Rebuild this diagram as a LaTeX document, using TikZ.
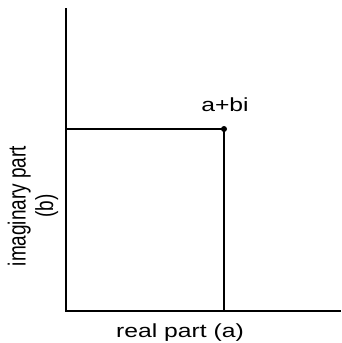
\documentclass[tikz,border=0pt]{standalone}
\usepackage{fontspec}
\setmainfont{Liberation Sans}
\begin{document}
\begin{tikzpicture}[x=1pt,y=-1pt,line width=1.1pt,every node/.style={font=\fontsize{19}{21}\selectfont,inner sep=0pt,xscale=1.3}]
\useasboundingbox (0,0) rectangle (341,343);
\coordinate (top) at (66,8);
\coordinate (orig) at (66,311);
\coordinate (right) at (341,311);
\coordinate (yproj) at (66,129);
\coordinate (xproj) at (224,311);
\fill (224,129) circle (3pt) coordinate (pt);
\node (lbl) at (225,105) {a+bi};
\node (xlabel) at (180,333) {real part (a)};
\node[rotate=90,align=center] (ylabel) at (33,206) {imaginary part\\(b)};
\draw (top) -- (orig) -- (right);
\draw (yproj) -- (pt) -- (xproj);
\end{tikzpicture}
\end{document}
